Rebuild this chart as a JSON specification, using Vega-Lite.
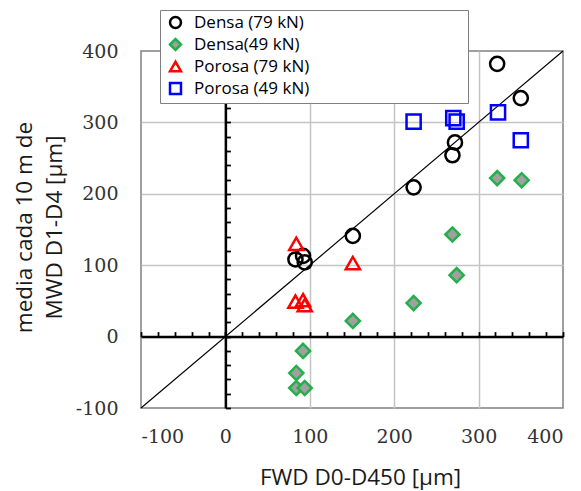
{
  "$schema": "https://vega.github.io/schema/vega-lite/v6.json",
  "width": 422,
  "height": 357,
  "autosize": {"type": "none"},
  "padding": {"left": 141, "top": 51, "right": 18, "bottom": 83},
  "background": "white",
  "config": {
    "view": {"stroke": "#808080", "strokeWidth": 1.5},
    "legend": {"fillColor": "white", "strokeColor": "#808080", "padding": 4, "zindex": 2}
  },
  "datasets": {
    "diag": [{"x": -100, "y": -100}, {"x": 400, "y": 400}],
    "pts": [
      {"s": "Densa (79 kN)", "fwd": 83, "mwd": 108},
      {"s": "Densa (79 kN)", "fwd": 92, "mwd": 113},
      {"s": "Densa (79 kN)", "fwd": 94, "mwd": 104},
      {"s": "Densa (79 kN)", "fwd": 151, "mwd": 141},
      {"s": "Densa (79 kN)", "fwd": 223, "mwd": 209},
      {"s": "Densa (79 kN)", "fwd": 269, "mwd": 254},
      {"s": "Densa (79 kN)", "fwd": 272, "mwd": 272},
      {"s": "Densa (79 kN)", "fwd": 322, "mwd": 382},
      {"s": "Densa (79 kN)", "fwd": 350, "mwd": 334},
      {"s": "Densa(49 kN)", "fwd": 84, "mwd": -72},
      {"s": "Densa(49 kN)", "fwd": 94, "mwd": -72},
      {"s": "Densa(49 kN)", "fwd": 84, "mwd": -51},
      {"s": "Densa(49 kN)", "fwd": 92, "mwd": -20},
      {"s": "Densa(49 kN)", "fwd": 151, "mwd": 22},
      {"s": "Densa(49 kN)", "fwd": 223, "mwd": 47},
      {"s": "Densa(49 kN)", "fwd": 269, "mwd": 143},
      {"s": "Densa(49 kN)", "fwd": 274, "mwd": 86},
      {"s": "Densa(49 kN)", "fwd": 322, "mwd": 222},
      {"s": "Densa(49 kN)", "fwd": 351, "mwd": 219},
      {"s": "Porosa (79 kN)", "fwd": 84, "mwd": 130},
      {"s": "Porosa (79 kN)", "fwd": 151, "mwd": 103},
      {"s": "Porosa (79 kN)", "fwd": 83, "mwd": 49},
      {"s": "Porosa (79 kN)", "fwd": 92, "mwd": 51},
      {"s": "Porosa (79 kN)", "fwd": 94, "mwd": 44},
      {"s": "Porosa (49 kN)", "fwd": 223, "mwd": 301},
      {"s": "Porosa (49 kN)", "fwd": 270, "mwd": 306},
      {"s": "Porosa (49 kN)", "fwd": 274, "mwd": 301},
      {"s": "Porosa (49 kN)", "fwd": 323, "mwd": 314},
      {"s": "Porosa (49 kN)", "fwd": 350, "mwd": 275}
    ]
  },
  "layer": [
    {
      "data": {"name": "diag"},
      "mark": {"type": "line", "color": "black", "strokeWidth": 1.2},
      "encoding": {
        "x": {
          "field": "x", "type": "quantitative",
          "scale": {"domain": [-100, 400], "nice": false, "zero": false},
          "axis": {
            "orient": "bottom",
            "values": [-100, 0, 100, 200, 300, 400],
            "ticks": false, "domain": false, "grid": true,
            "gridColor": {"condition": {"test": "datum.value == -100 || datum.value == 400", "value": "transparent"}, "value": "#c4c4c4"},
            "gridWidth": 1.5,
            "labelFont": "DejaVu Serif", "labelFontSize": 19, "labelColor": "#333333",
            "labelPadding": 19, "labelExpr": "datum.value + ''",
            "title": "FWD D0-D450 [µm]", "titleFont": "Open Sans", "titleFontSize": 22.5,
            "titleFontWeight": "normal", "titleColor": "#1a1a1a",
            "titleX": 219, "titleY": 76, "titleBaseline": "alphabetic", "titleAlign": "center",
            "zindex": 0
          }
        },
        "y": {
          "field": "y", "type": "quantitative",
          "scale": {"domain": [-100, 400], "nice": false, "zero": false},
          "axis": {
            "orient": "left",
            "values": [-100, 0, 100, 200, 300, 400],
            "ticks": false, "domain": false, "grid": true,
            "gridColor": {"condition": {"test": "datum.value == -100 || datum.value == 400", "value": "transparent"}, "value": "#c4c4c4"},
            "gridWidth": 1.5,
            "labelFont": "DejaVu Serif", "labelFontSize": 19, "labelColor": "#333333",
            "labelPadding": 23, "labelBaseline": "middle", "labelExpr": "datum.value + ''",
            "title": ["media cada 10 m de", "MWD D1-D4 [µm]"],
            "titleFont": "Open Sans", "titleFontSize": 22.5, "titleFontWeight": "normal",
            "titleColor": "#1a1a1a", "titleLineHeight": 30,
            "titleX": -110, "titleY": 176, "titleAlign": "center", "titleBaseline": "alphabetic",
            "zindex": 0
          }
        }
      }
    },
    {
      "data": {"name": "pts"},
      "mark": {"type": "point", "opacity": 1, "strokeWidth": 2.5, "size": 200},
      "encoding": {
        "x": {
          "field": "fwd", "type": "quantitative",
          "scale": {"domain": [-100, 400], "nice": false, "zero": false},
          "axis": {
            "orient": "top", "offset": -285.6,
            "values": [-100, -80, -60, -40, -20, 0, 20, 40, 60, 80, 100, 120, 140, 160, 180, 200, 220, 240, 260, 280, 300, 320, 340, 360, 380, 400],
            "labels": false, "grid": false, "title": null,
            "domainColor": "black", "domainWidth": 2.5,
            "tickColor": "black", "tickWidth": 1.8, "tickSize": 5, "zindex": 1
          }
        },
        "y": {
          "field": "mwd", "type": "quantitative",
          "scale": {"domain": [-100, 400], "nice": false, "zero": false},
          "axis": {
            "orient": "right", "offset": -337.6,
            "values": [-100, -80, -60, -40, -20, 0, 20, 40, 60, 80, 100, 120, 140, 160, 180, 200, 220, 240, 260, 280, 300, 320, 340, 360, 380, 400],
            "labels": false, "grid": false, "title": null,
            "domainColor": "black", "domainWidth": 2.5,
            "tickColor": "black", "tickWidth": 1.8, "tickSize": 5, "zindex": 1
          }
        },
        "shape": {
          "field": "s", "type": "nominal", "title": null,
          "scale": {"domain": ["Densa (79 kN)", "Densa(49 kN)", "Porosa (79 kN)", "Porosa (49 kN)"], "range": ["circle", "diamond", "triangle-up", "square"]},
          "legend": {
            "orient": "none", "legendX": 19, "legendY": -41,
            "fillColor": "white", "strokeColor": "#808080",
            "padding": 4, "symbolOffset": 3, "labelOffset": 10, "rowPadding": 1,
            "labelFont": "Open Sans", "labelFontSize": 17, "labelColor": "black",
            "labelLimit": 400, "symbolSize": 120, "symbolStrokeWidth": 2.5,
            "labelExpr": "pad(datum.label, 49, '\u00a0') + '\u200b'", "zindex": 2
          }
        },
        "stroke": {
          "field": "s", "type": "nominal", "title": null,
          "scale": {"domain": ["Densa (79 kN)", "Densa(49 kN)", "Porosa (79 kN)", "Porosa (49 kN)"], "range": ["#000000", "#23b04a", "#ff0000", "#0000ff"]}
        },
        "fill": {
          "field": "s", "type": "nominal", "title": null,
          "scale": {"domain": ["Densa (79 kN)", "Densa(49 kN)", "Porosa (79 kN)", "Porosa (49 kN)"], "range": ["transparent", "#a0a0a0", "transparent", "transparent"]}
        }
      }
    }
  ],
  "resolve": {"axis": {"x": "independent", "y": "independent"}}
}
